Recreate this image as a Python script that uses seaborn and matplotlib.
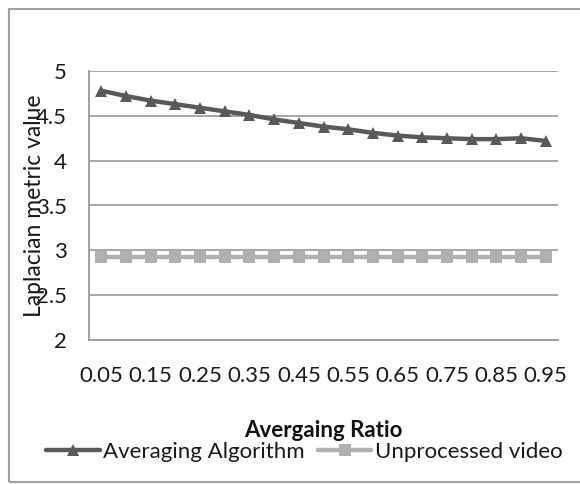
import numpy as np
import pandas as pd
import matplotlib
matplotlib.use("Agg")
import matplotlib.pyplot as plt
from matplotlib.patches import Rectangle
from matplotlib.ticker import FixedLocator
import seaborn as sns

ratios = ["0.05", "0.1", "0.15", "0.2", "0.25", "0.3", "0.35", "0.4", "0.45", "0.5",
          "0.55", "0.6", "0.65", "0.7", "0.75", "0.8", "0.85", "0.9", "0.95"]
averaging = [4.78, 4.72, 4.67, 4.63, 4.59, 4.55, 4.51, 4.46, 4.42, 4.38,
             4.35, 4.31, 4.28, 4.26, 4.25, 4.24, 4.24, 4.25, 4.22]
unprocessed = [2.93] * 19
series_names = ["Averaging Algorithm", "Unprocessed video"]
yticks = [2, 2.5, 3, 3.5, 4, 4.5, 5]

sns.set_style("white")
plt.rcParams["font.family"] = ["Lato", "DejaVu Sans"]

df = pd.DataFrame({
    "idx": list(range(len(ratios))) * 2,
    "value": averaging + unprocessed,
    "series": [series_names[0]] * len(ratios) + [series_names[1]] * len(ratios),
})

fig = plt.figure(figsize=(5.8, 4.84), dpi=100)
ax = fig.add_axes([89 / 580, 1 - 340 / 484, (558 - 89) / 580, (340 - 71) / 484])

sns.lineplot(data=df, x="idx", y="value", hue="series", style="series",
             palette=["#595959", "#b0b0b0"], markers=["^", "s"], dashes=False,
             linewidth=3.2, markersize=9, markeredgewidth=0, ax=ax)

ax.set_xlim(-0.5, len(ratios) - 0.5)
ax.set_ylim(2, 5)
ax.set_yticks(yticks)
ax.set_yticklabels([f"{t:g}" for t in yticks], fontsize=16, color="#1a1a1a")
ax.set_xticks(list(range(0, len(ratios), 2)))
ax.set_xticklabels(ratios[::2], fontsize=16, color="#1a1a1a")
ax.xaxis.set_minor_locator(FixedLocator([i - 0.5 for i in range(len(ratios) + 1)]))
ax.tick_params(axis="x", which="major", length=0, pad=19)
ax.tick_params(axis="x", which="minor", length=4, width=1.2, color="#999999", direction="out")
ax.tick_params(axis="y", length=5, width=1.2, color="#999999", direction="out", pad=11)
ax.grid(axis="y", color="#a0a0a0", linewidth=1.3)
ax.set_axisbelow(True)
for s in ["top", "right"]:
    ax.spines[s].set_visible(False)
for s in ["left", "bottom"]:
    ax.spines[s].set_color("#999999")
    ax.spines[s].set_linewidth(1.3)

ax.set_xlabel("Avergaing Ratio", fontsize=16, fontweight="bold", labelpad=24, color="#111111")
ax.set_ylabel("Laplacian metric value", fontsize=16.5, color="#1a1a1a")
ax.yaxis.set_label_coords(-0.093, 0.5)

handles, labels = ax.get_legend_handles_labels()
leg = ax.legend(handles, labels, loc="center", bbox_to_anchor=(0.459, -0.415),
                ncol=2, frameon=False, fontsize=16, handlelength=2.4,
                handletextpad=0.15, columnspacing=0.6)
for t in leg.get_texts():
    t.set_color("#1a1a1a")

fig.add_artist(Rectangle((9 / 580, 2 / 484), 1.0, 1 - 11 / 484,
                         transform=fig.transFigure, fill=False,
                         edgecolor="#a0a0a0", linewidth=1.5))

fig.savefig("out.png", dpi=100)
